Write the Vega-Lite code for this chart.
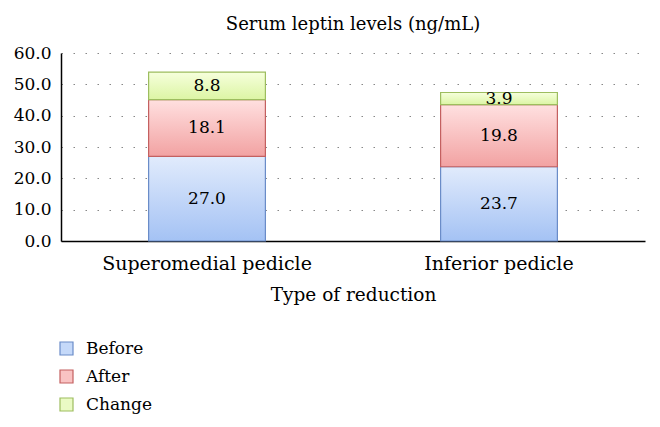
{
  "$schema": "https://vega.github.io/schema/vega-lite/v6.json",
  "width": 584,
  "height": 188,
  "autosize": {"type": "none"},
  "padding": {"left": 61, "top": 53, "right": 15, "bottom": 186},
  "background": "white",
  "title": {"text": "Serum leptin levels (ng/mL)", "font": "DejaVu Serif", "fontSize": 18, "fontWeight": "normal", "color": "#000", "offset": 10, "anchor": "middle"},
  "config": {"view": {"stroke": null}, "font": "DejaVu Serif"},
  "data": {"values": [
    {"type": "Superomedial pedicle", "series": "Before", "ord": 1, "value": 27.0},
    {"type": "Superomedial pedicle", "series": "After", "ord": 2, "value": 18.1},
    {"type": "Superomedial pedicle", "series": "Change", "ord": 3, "value": 8.8},
    {"type": "Inferior pedicle", "series": "Before", "ord": 1, "value": 23.7},
    {"type": "Inferior pedicle", "series": "After", "ord": 2, "value": 19.8},
    {"type": "Inferior pedicle", "series": "Change", "ord": 3, "value": 3.9}
  ]},
  "transform": [
    {"stack": "value", "groupby": ["type"], "sort": [{"field": "ord", "order": "ascending"}], "as": ["y0", "y1"]},
    {"calculate": "(datum.y0 + datum.y1) / 2", "as": "ymid"}
  ],
  "encoding": {
    "x": {"field": "type", "type": "nominal", "sort": ["Superomedial pedicle", "Inferior pedicle"],
      "scale": {"paddingInner": 0.6, "paddingOuter": 0.3},
      "axis": {"title": "Type of reduction", "labelAngle": 0, "labelFontSize": 19, "titleFontSize": 18.5, "titleFontWeight": "normal", "labelColor": "#000", "titleColor": "#000", "ticks": false, "domainColor": "#000", "domainWidth": 1.5, "labelPadding": 13, "titlePadding": 12, "labelLimit": 0, "labelFont": "DejaVu Serif", "titleFont": "DejaVu Serif"}},
    "y": {"field": "y1", "type": "quantitative", "scale": {"domain": [0, 60]},
      "axis": {"title": null, "values": [0, 10, 20, 30, 40, 50, 60], "format": ".1f", "labelFontSize": 17, "labelColor": "#000", "ticks": false, "domainColor": "#000", "domainWidth": 1.5, "labelPadding": 10, "grid": true, "gridColor": "#888", "gridDash": [1.5, 10.5], "gridWidth": 1.2, "labelFont": "DejaVu Serif"}},
    "y2": {"field": "y0"}
  },
  "layer": [
    {
      "mark": {"type": "bar", "fillOpacity": 0, "strokeOpacity": 0},
      "encoding": {
        "fill": {"field": "series", "type": "nominal",
          "scale": {"domain": ["Before", "After", "Change"], "range": ["#c5d9f9", "#f9c3c3", "#eafac4"]},
          "legend": {"title": null, "orient": "none", "legendX": -3, "legendY": 287, "symbolType": "square", "symbolSize": 169, "symbolStrokeWidth": 1.2, "labelFontSize": 17, "labelColor": "#000", "labelFont": "DejaVu Serif", "rowPadding": 9, "labelOffset": 11,
            "encode": {"symbols": {"update": {"fill": {"scale": "fill", "field": "value"}, "stroke": {"scale": "stroke", "field": "value"}, "fillOpacity": {"value": 1}, "strokeOpacity": {"value": 1}, "opacity": {"value": 1}}}}}},
        "stroke": {"field": "series", "type": "nominal",
          "scale": {"domain": ["Before", "After", "Change"], "range": ["#6a8cc8", "#c46060", "#9dbd5f"]}}
      }
    },
    {
      "transform": [{"filter": "datum.series === 'Before'"}],
      "mark": {"type": "bar", "strokeWidth": 1.2, "stroke": "#6a8cc8",
        "fill": {"gradient": "linear", "x1": 0, "y1": 0, "x2": 0, "y2": 1, "stops": [{"offset": 0, "color": "#e1ebfc"}, {"offset": 1, "color": "#a4c2f4"}]}}
    },
    {
      "transform": [{"filter": "datum.series === 'After'"}],
      "mark": {"type": "bar", "strokeWidth": 1.2, "stroke": "#c46060",
        "fill": {"gradient": "linear", "x1": 0, "y1": 0, "x2": 0, "y2": 1, "stops": [{"offset": 0, "color": "#ffe0e0"}, {"offset": 1, "color": "#f2a2a2"}]}}
    },
    {
      "transform": [{"filter": "datum.series === 'Change'"}],
      "mark": {"type": "bar", "strokeWidth": 1.2, "stroke": "#9dbd5f",
        "fill": {"gradient": "linear", "x1": 0, "y1": 0, "x2": 0, "y2": 1, "stops": [{"offset": 0, "color": "#f6ffdc"}, {"offset": 1, "color": "#dcf5a4"}]}}
    },
    {
      "mark": {"type": "text", "fontSize": 17, "color": "#000", "font": "DejaVu Serif", "baseline": "middle"},
      "encoding": {
        "y": {"field": "ymid", "type": "quantitative"},
        "y2": null,
        "text": {"field": "value", "type": "quantitative", "format": ".1f"}
      }
    }
  ]
}
